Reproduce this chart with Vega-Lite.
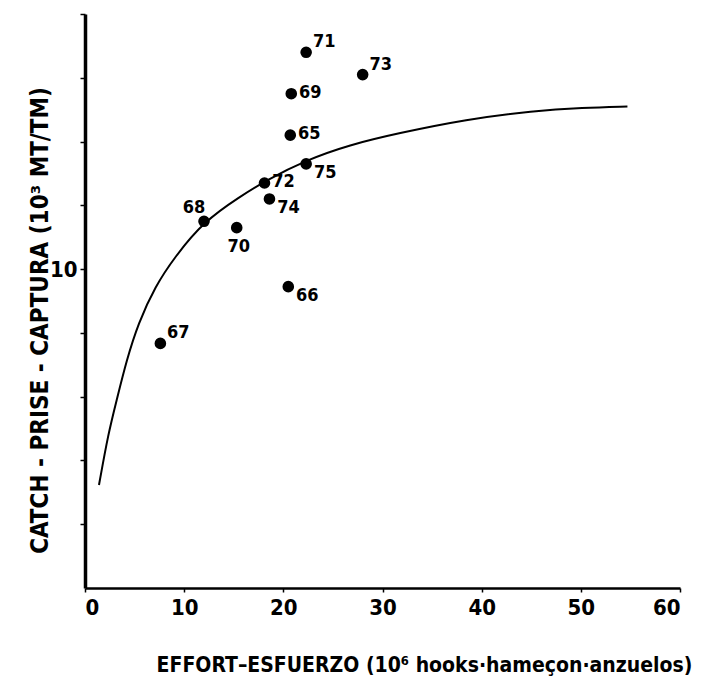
{
  "$schema": "https://vega.github.io/schema/vega-lite/v6.json",
  "autosize": "none",
  "width": 595,
  "height": 574,
  "padding": {"left": 85, "top": 14, "right": 21, "bottom": 99},
  "background": "white",
  "config": {
    "view": {"stroke": null},
    "font": "DejaVu Sans Condensed",
    "axis": {"grid": false, "domainColor": "black", "tickColor": "black", "labelColor": "black", "titleColor": "black", "labelFont": "DejaVu Sans Condensed", "titleFont": "DejaVu Sans Condensed", "labelFontWeight": "bold", "titleFontWeight": "bold"}
  },
  "datasets": {
    "pts": [
      {"year": "65", "effort": 20.7, "catch": 14.2},
      {"year": "66", "effort": 20.5, "catch": 9.45},
      {"year": "67", "effort": 7.6, "catch": 7.67},
      {"year": "68", "effort": 12.0, "catch": 11.5},
      {"year": "69", "effort": 20.8, "catch": 15.5},
      {"year": "70", "effort": 15.3, "catch": 11.3},
      {"year": "71", "effort": 22.3, "catch": 16.8},
      {"year": "72", "effort": 18.1, "catch": 12.7},
      {"year": "73", "effort": 28.0, "catch": 16.1},
      {"year": "74", "effort": 18.6, "catch": 12.2},
      {"year": "75", "effort": 22.3, "catch": 13.3}
    ],
    "curve": [
      {"effort": 1.41, "catch": 3.23},
      {"effort": 2.35, "catch": 4.85},
      {"effort": 3.2, "catch": 5.9},
      {"effort": 4.2, "catch": 7.15},
      {"effort": 5.37, "catch": 8.3},
      {"effort": 7.06, "catch": 9.45},
      {"effort": 9.07, "catch": 10.39},
      {"effort": 12.0, "catch": 11.5},
      {"effort": 15.6, "catch": 12.27},
      {"effort": 18.3, "catch": 12.79},
      {"effort": 22.3, "catch": 13.42},
      {"effort": 26.7, "catch": 13.9},
      {"effort": 31.4, "catch": 14.25},
      {"effort": 38.5, "catch": 14.7},
      {"effort": 45.2, "catch": 14.96},
      {"effort": 50.2, "catch": 15.06},
      {"effort": 54.7, "catch": 15.1}
    ]
  },
  "encoding": {
    "x": {"field": "effort", "type": "quantitative",
      "scale": {"domain": [0, 60], "nice": false, "zero": true},
      "axis": {"values": [0, 10, 20, 30, 40, 50, 60], "domainWidth": 2.5, "tickSize": 4, "tickWidth": 1.5, "labelFontSize": 22, "labelPadding": 5,
        "title": "EFFORT–ESFUERZO (10⁶ hooks·hameçon·anzuelos)", "titleFontSize": 21, "titleX": 339, "titleY": 77, "titleAlign": "center", "titleBaseline": "middle"}},
    "y": {"field": "catch", "type": "quantitative",
      "scale": {"domain": [0, 18], "nice": false},
      "axis": {"values": [2, 4, 6, 8, 10, 12, 14, 16, 18], "labelExpr": "datum.value == 10 ? '10' : ''", "domainWidth": 3.5, "tickSize": 5, "tickWidth": 1.5, "labelFontSize": 22, "labelPadding": 3,
        "title": "CATCH - PRISE - CAPTURA (10³ MT/TM)", "titleFontSize": 24, "titleX": -45, "titleY": 306, "titleAngle": -90, "titleAlign": "center", "titleBaseline": "middle"}}
  },
  "layer": [
    {"data": {"name": "curve"}, "mark": {"type": "line", "color": "black", "strokeWidth": 2, "interpolate": "basis"}},
    {"data": {"name": "pts"}, "mark": {"type": "circle", "color": "black", "opacity": 1, "size": 135}},
    {"data": {"name": "pts"}, "transform": [{"filter": "indexof(['65','69','72'], datum.year) >= 0"}],
      "mark": {"type": "text", "dx": 19, "dy": -1, "fontSize": 18, "fontWeight": "bold", "color": "black"}, "encoding": {"text": {"field": "year"}}},
    {"data": {"name": "pts"}, "transform": [{"filter": "indexof(['66','74','75'], datum.year) >= 0"}],
      "mark": {"type": "text", "dx": 19, "dy": 9, "fontSize": 18, "fontWeight": "bold", "color": "black"}, "encoding": {"text": {"field": "year"}}},
    {"data": {"name": "pts"}, "transform": [{"filter": "indexof(['67','71','73'], datum.year) >= 0"}],
      "mark": {"type": "text", "dx": 18, "dy": -10, "fontSize": 18, "fontWeight": "bold", "color": "black"}, "encoding": {"text": {"field": "year"}}},
    {"data": {"name": "pts"}, "transform": [{"filter": "datum.year == '68'"}],
      "mark": {"type": "text", "dx": -10, "dy": -13, "fontSize": 18, "fontWeight": "bold", "color": "black"}, "encoding": {"text": {"field": "year"}}},
    {"data": {"name": "pts"}, "transform": [{"filter": "datum.year == '70'"}],
      "mark": {"type": "text", "dx": 2, "dy": 19, "fontSize": 18, "fontWeight": "bold", "color": "black"}, "encoding": {"text": {"field": "year"}}}
  ]
}
